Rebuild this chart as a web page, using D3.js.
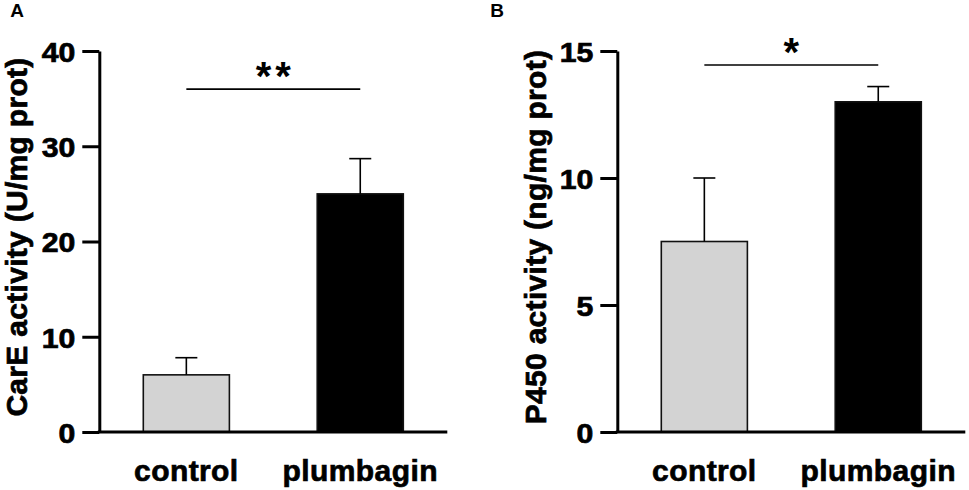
<!DOCTYPE html>
<html>
<head>
<meta charset="utf-8">
<script src="https://cdn.jsdelivr.net/npm/d3@7"></script>
<style>
	body { margin: 0; background: #fff; }
	svg text { font-family: "Liberation Sans", Arial, Helvetica, sans-serif; font-weight: bold; fill: #000; }
	svg text.heavy { stroke: #000; stroke-width: 0.7px; }
</style>
</head>
<body>
<div id="chart"></div>
<script>
// =================================================
// data
// =================================================
var categories = ["control", "plumbagin"];

// panel A: CarE activity
var careMean = [6.0, 25.0],
	careErr = [1.8, 3.7],
	careTicks = [0, 10, 20, 30, 40];

// panel B: P450 activity
var p450Mean = [7.5, 13.0],
	p450Err = [2.5, 0.6],
	p450Ticks = [0, 5, 10, 15];

var barFill = ["#d3d3d3", "#000000"];

var width = 969,
	height = 490;

var svg = d3.select("#chart").append("svg")
	.attr("width", width)
	.attr("height", height);

// =================================================
// one panel = one bar chart with upper error bars
// =================================================
function panel(opt) {
	var plotW = 348,
		top = 51,
		bottom = 432,
		tickW = 1.12; // tick digits are a bit wider in the figure

	var g = svg.append("g")
		.attr("transform", "translate(" + opt.x + ",0)");

	var x = d3.scaleBand()
		.domain(categories)
		.range([0, plotW])
		.paddingInner(0.505)
		.paddingOuter(0.253);

	var y = d3.scaleLinear()
		.domain([0, opt.max])
		.range([bottom, top]);

	// bars
	g.selectAll("rect.bar")
		.data(opt.mean)
		.enter().append("rect")
		.attr("class", "bar")
		.attr("x", function(d, i) { return x(categories[i]); })
		.attr("width", x.bandwidth())
		.attr("y", function(d) { return y(d); })
		.attr("height", function(d) { return y(0) - y(d); })
		.style("fill", function(d, i) { return barFill[i]; })
		.style("stroke", "#111")
		.style("stroke-width", 1.6);

	// error bars (upper only)
	var eb = g.selectAll("g.err")
		.data(opt.mean)
		.enter().append("g")
		.attr("class", "err")
		.style("stroke", "#000")
		.style("stroke-width", 1.6);

	eb.append("line")
		.attr("x1", function(d, i) { return x(categories[i]) + x.bandwidth() / 2; })
		.attr("x2", function(d, i) { return x(categories[i]) + x.bandwidth() / 2; })
		.attr("y1", function(d) { return y(d); })
		.attr("y2", function(d, i) { return y(d + opt.err[i]); });

	eb.append("line")
		.attr("x1", function(d, i) { return x(categories[i]) + x.bandwidth() / 2 - 11; })
		.attr("x2", function(d, i) { return x(categories[i]) + x.bandwidth() / 2 + 11; })
		.attr("y1", function(d, i) { return y(d + opt.err[i]); })
		.attr("y2", function(d, i) { return y(d + opt.err[i]); });

	// y axis
	var yAxis = g.append("g")
		.call(d3.axisLeft(y)
			.tickValues(opt.ticks)
			.tickSize(17)
			.tickSizeOuter(0)
			.tickPadding(7));
	yAxis.selectAll("path, line")
		.style("stroke", "#000")
		.style("stroke-width", 3);
	yAxis.selectAll("text")
		.attr("class", "heavy")
		.style("font-size", "27px")
		.attr("x", -24 / tickW)
		.attr("transform", "scale(" + tickW + ",1)")
		.attr("dy", "0.38em");

	// x axis line
	g.append("line")
		.attr("x1", -1.5)
		.attr("x2", plotW)
		.attr("y1", y(0))
		.attr("y2", y(0))
		.style("stroke", "#000")
		.style("stroke-width", 3);

	// category labels
	g.selectAll("text.cat")
		.data(categories)
		.enter().append("text")
		.attr("class", "cat heavy")
		.attr("x", function(d) { return x(d) + x.bandwidth() / 2; })
		.attr("y", 481)
		.attr("text-anchor", "middle")
		.style("font-size", "30px")
		.style("letter-spacing", "0.4px")
		.text(function(d) { return d; });

	// axis title
	g.append("text")
		.attr("class", "heavy")
		.attr("transform", "translate(" + (-opt.titleGap) + ",237) rotate(-90)")
		.attr("text-anchor", "middle")
		.style("font-size", "30px")
		.style("letter-spacing", "0.3px")
		.text(opt.title);

	// significance bracket
	var c0 = x(categories[0]) + x.bandwidth() / 2,
		c1 = x(categories[1]) + x.bandwidth() / 2,
		sy = y(opt.sig);
	g.append("line")
		.attr("x1", c0)
		.attr("x2", c1)
		.attr("y1", sy)
		.attr("y2", sy)
		.style("stroke", "#000")
		.style("stroke-width", 1.6);
	g.append("text")
		.attr("x", (c0 + c1) / 2 + (opt.stars.length > 1 ? 2 : 0))
		.attr("y", sy + 1)
		.attr("text-anchor", "middle")
		.style("font-size", "40px")
		.style("letter-spacing", opt.stars.length > 1 ? "4px" : "0px")
		.text(opt.stars);

	// panel letter
	svg.append("text")
		.attr("x", opt.x + opt.letterDx)
		.attr("y", 17)
		.style("font-size", "19px")
		.text(opt.letter);
}

panel({
	x: 99.3, max: 40, ticks: careTicks, mean: careMean, err: careErr,
	title: "CarE activity (U/mg prot)", titleGap: 72, sig: 36, stars: "**",
	letter: "A", letterDx: -89
});

panel({
	x: 617.3, max: 15, ticks: p450Ticks, mean: p450Mean, err: p450Err,
	title: "P450 activity (ng/mg prot)", titleGap: 71, sig: 14.45, stars: "*",
	letter: "B", letterDx: -127
});
</script>
</body>
</html>
